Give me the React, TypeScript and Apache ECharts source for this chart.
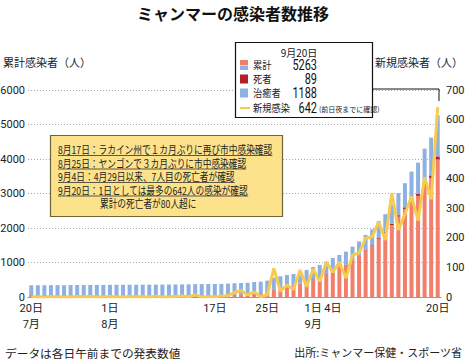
import React, { useEffect, useRef } from "react";
import * as echarts from "echarts";

const dates = [
  "7/20", "7/21", "7/22", "7/23", "7/24", "7/25", "7/26", "7/27", "7/28", "7/29", "7/30", "7/31",
  "8/1", "8/2", "8/3", "8/4", "8/5", "8/6", "8/7", "8/8", "8/9", "8/10", "8/11", "8/12", "8/13", "8/14", "8/15", "8/16",
  "8/17", "8/18", "8/19", "8/20", "8/21", "8/22", "8/23", "8/24", "8/25", "8/26", "8/27", "8/28", "8/29", "8/30", "8/31",
  "9/1", "9/2", "9/3", "9/4", "9/5", "9/6", "9/7", "9/8", "9/9", "9/10", "9/11", "9/12", "9/13", "9/14", "9/15", "9/16",
  "9/17", "9/18", "9/19", "9/20",
];

const tickIndex = [0, 12, 28, 36, 43, 46, 62];
const tickText = ["20日\n7月", "1日\n8月", "17日", "25日", "1日\n9月", "4日", "20日"];

const cumulative = [
  340, 341, 341, 343, 344, 344, 345, 347, 348, 350, 351, 351,
  353, 353, 353, 355, 356, 357, 357, 360, 360, 361, 363, 366, 367, 374, 374, 375,
  376, 380, 387, 399, 404, 413, 435, 445, 474, 560, 600, 640, 665, 735, 785,
  870, 930, 1025, 1130, 1220, 1315, 1460, 1610, 1800, 1960, 2200, 2400, 2680, 3010, 3299, 3636,
  3894, 4299, 4621, 5263,
];

const recovered = [
  280, 282, 283, 285, 287, 289, 291, 292, 294, 296, 298, 300,
  302, 303, 304, 306, 307, 309, 310, 312, 313, 315, 316, 318, 320, 321, 322, 324,
  325, 326, 327, 328, 329, 330, 331, 333, 334, 336, 338, 340, 342, 344, 346,
  348, 352, 357, 363, 370, 380, 392, 410, 435, 460, 490, 520, 560, 640, 700, 780,
  900, 1000, 1096, 1188,
];

const deaths = [
  6, 6, 6, 6, 6, 6, 6, 6, 6, 6, 6, 6,
  6, 6, 6, 6, 6, 6, 6, 6, 6, 6, 6, 6, 6, 6, 6, 6,
  6, 6, 6, 6, 6, 6, 6, 6, 6, 6, 6, 6, 6, 6, 6,
  6, 6, 6, 7, 8, 8, 10, 12, 14, 17, 21, 26, 32, 39, 47, 55,
  62, 70, 79, 89,
];

const newCases = [
  1, 1, 0, 2, 1, 0, 1, 2, 1, 2, 1, 0,
  2, 0, 0, 2, 1, 1, 0, 3, 0, 1, 2, 3, 1, 7, 0, 1,
  1, 3, 4, 16, 22, 7, 17, 1, 7, 97, 20, 40, 25, 91, 35,
  95, 52, 118, 84, 118, 64, 142, 149, 199, 203, 254, 193, 352, 227, 280, 340,
  258, 405, 330, 642,
];

const legendRows = [
  { label: "累計", value: "5263" },
  { label: "死者", value: "89" },
  { label: "治癒者", value: "1188" },
  { label: "新規感染", value: "642" },
];

const notes = [
  "8月17日：ラカイン州で１カ月ぶりに再び市中感染確認",
  "8月25日：ヤンゴンで３カ月ぶりに市中感染確認",
  "9月4日：4月29日以来、7人目の死亡者が確認",
  "9月20日：1日としては最多の642人の感染が確認",
  "累計の死亡者が80人超に",
];

const FONT_JP = "'Noto Sans CJK JP', 'Noto Sans', sans-serif";
const FONT_NUM = "Roboto, 'Noto Sans CJK JP', sans-serif";

const C_RED = "#F27E6C";
const C_DARK = "#B21F2A";
const C_BLUE = "#8DB1E1";
const C_YEL = "#F6CB4F";

function measure(text: string, font: string): number {
  const ctx = document.createElement("canvas").getContext("2d");
  if (!ctx) return text.length * 10;
  ctx.font = font;
  return ctx.measureText(text).width;
}

function txt(x: number, y: number, text: string, size: number, align: string, opts: any = {}) {
  return {
    type: "text", x, y, z: opts.z ?? 101, scaleX: opts.scaleX ?? 1,
    style: {
      text, fontSize: size, fontFamily: opts.family ?? FONT_JP, fontWeight: opts.weight ?? "normal",
      fill: opts.fill ?? "#222", align, verticalAlign: "middle", textAlign: align, textVerticalAlign: "middle",
    },
  };
}

export default function App() {
  const ref = useRef<HTMLDivElement>(null);

  useEffect(() => {
    if (!ref.current) return;
    const chart = echarts.init(ref.current, undefined, { renderer: "svg" });

    const active = cumulative.map((c, i) => c - recovered[i] - deaths[i]);
    const labelMap: Record<number, string> = {};
    tickIndex.forEach((idx, k) => (labelMap[idx] = tickText[k]));

    const graphic: any[] = [];
    graphic.push(txt(233, 13, "ミャンマーの感染者数推移", 16, "center", { weight: "bold", fill: "#111" }));
    graphic.push(txt(3, 62, "累計感染者（人）", 11, "left"));
    graphic.push(txt(463, 62, "新規感染者（人）", 11, "right"));
    graphic.push(txt(5, 352, "データは各日午前までの発表数値", 11.7, "left"));
    graphic.push(txt(462, 352, "出所:ミャンマー保健・スポーツ省", 11, "right"));

    // legend box
    graphic.push({
      type: "polyline", z: 99, shape: { points: [[372, 89], [439, 89], [439, 101]] },
      style: { stroke: "#111", lineWidth: 1, fill: "none" },
    });
    graphic.push({
      type: "rect", z: 100, shape: { x: 235.5, y: 42.5, width: 137, height: 75 },
      style: { fill: "#fff", stroke: "#111", lineWidth: 1.2 },
    });
    graphic.push(txt(299, 52, "9月20日", 10.5, "center", { scaleX: 0.95 }));
    const rowY = [65, 79, 93, 108];
    graphic.push({ type: "rect", z: 101, shape: { x: 240, y: 60, width: 8, height: 5 }, style: { fill: C_RED } });
    graphic.push({ type: "rect", z: 101, shape: { x: 240, y: 65.5, width: 8, height: 4.5 }, style: { fill: C_BLUE } });
    graphic.push({ type: "rect", z: 101, shape: { x: 240, y: 74.5, width: 8, height: 9 }, style: { fill: C_DARK } });
    graphic.push({ type: "rect", z: 101, shape: { x: 240, y: 88.5, width: 8, height: 9 }, style: { fill: C_BLUE } });
    graphic.push({ type: "line", z: 101, shape: { x1: 240, y1: 108, x2: 250, y2: 108 }, style: { stroke: C_YEL, lineWidth: 2 } });
    legendRows.forEach((r, i) => {
      graphic.push(txt(253, rowY[i], r.label, 10.5, "left", { scaleX: 0.88 }));
      graphic.push(txt(317, rowY[i], r.value, 14, "right", { scaleX: 0.78, family: FONT_NUM, fill: "#111" }));
    });
    graphic.push(txt(319, 109, "(前日夜までに確認)", 7, "left"));

    // annotation box
    graphic.push({
      type: "rect", z: 100, shape: { x: 50.5, y: 135.5, width: 232, height: 81 },
      style: { fill: "#FDE28C", stroke: "#6E6436", lineWidth: 1.2 },
    });
    const noteY = [150, 163.5, 177, 190.5, 204];
    const noteX = [58, 58, 58, 58, 100];
    const sx = 0.79;
    notes.forEach((t, i) => {
      graphic.push(txt(noteX[i], noteY[i], t, 11, "left", { scaleX: sx }));
      if (i < 4) {
        const w = measure(t, `11px ${FONT_JP}`) * sx;
        graphic.push({
          type: "line", z: 101, shape: { x1: noteX[i], y1: noteY[i] + 5.5, x2: noteX[i] + w, y2: noteY[i] + 5.5 },
          style: { stroke: "#333", lineWidth: 0.8 },
        });
      }
    });

    chart.setOption({
      animation: false,
      grid: { left: 28, right: 24, top: 90, bottom: 62, outerBoundsMode: "none", containLabel: false },
      xAxis: {
        type: "category",
        data: dates,
        axisLine: { show: true, lineStyle: { color: "#999", width: 1 } },
        axisTick: { show: false },
        axisLabel: {
          interval: 0,
          margin: 3,
          fontSize: 11,
          lineHeight: 16,
          color: "#222",
          fontFamily: FONT_NUM,
          formatter: (_v: string, i: number) => labelMap[i] ?? "",
        },
      },
      yAxis: [
        {
          type: "value", min: 0, max: 6000, interval: 1000, position: "left",
          axisLine: { show: false }, axisTick: { show: false },
          axisLabel: { margin: 3, fontSize: 11, color: "#222", fontFamily: FONT_NUM, formatter: (v: number) => String(v) },
          splitLine: { show: true, lineStyle: { color: "#aaa", type: [1, 2], width: 1 } },
        },
        {
          type: "value", min: 0, max: 700, interval: 100, position: "right",
          axisLine: { show: false }, axisTick: { show: false },
          axisLabel: { margin: 5, fontSize: 11, color: "#222", fontFamily: FONT_NUM, formatter: (v: number) => String(v) },
          splitLine: { show: false },
        },
      ],
      series: [
        { type: "bar", stack: "t", data: active, barWidth: 4, itemStyle: { color: C_RED } },
        { type: "bar", stack: "t", data: deaths, barWidth: 4, itemStyle: { color: C_DARK } },
        { type: "bar", stack: "t", data: recovered, barWidth: 4, itemStyle: { color: C_BLUE } },
        {
          type: "line", yAxisIndex: 1, data: newCases, symbol: "none", z: 5,
          lineStyle: { color: C_YEL, width: 3 },
        },
      ],
      graphic,
    });

    return () => chart.dispose();
  }, []);

  return <div ref={ref} style={{ width: 465, height: 359, position: "absolute", left: 0, top: 0 }} />;
}
